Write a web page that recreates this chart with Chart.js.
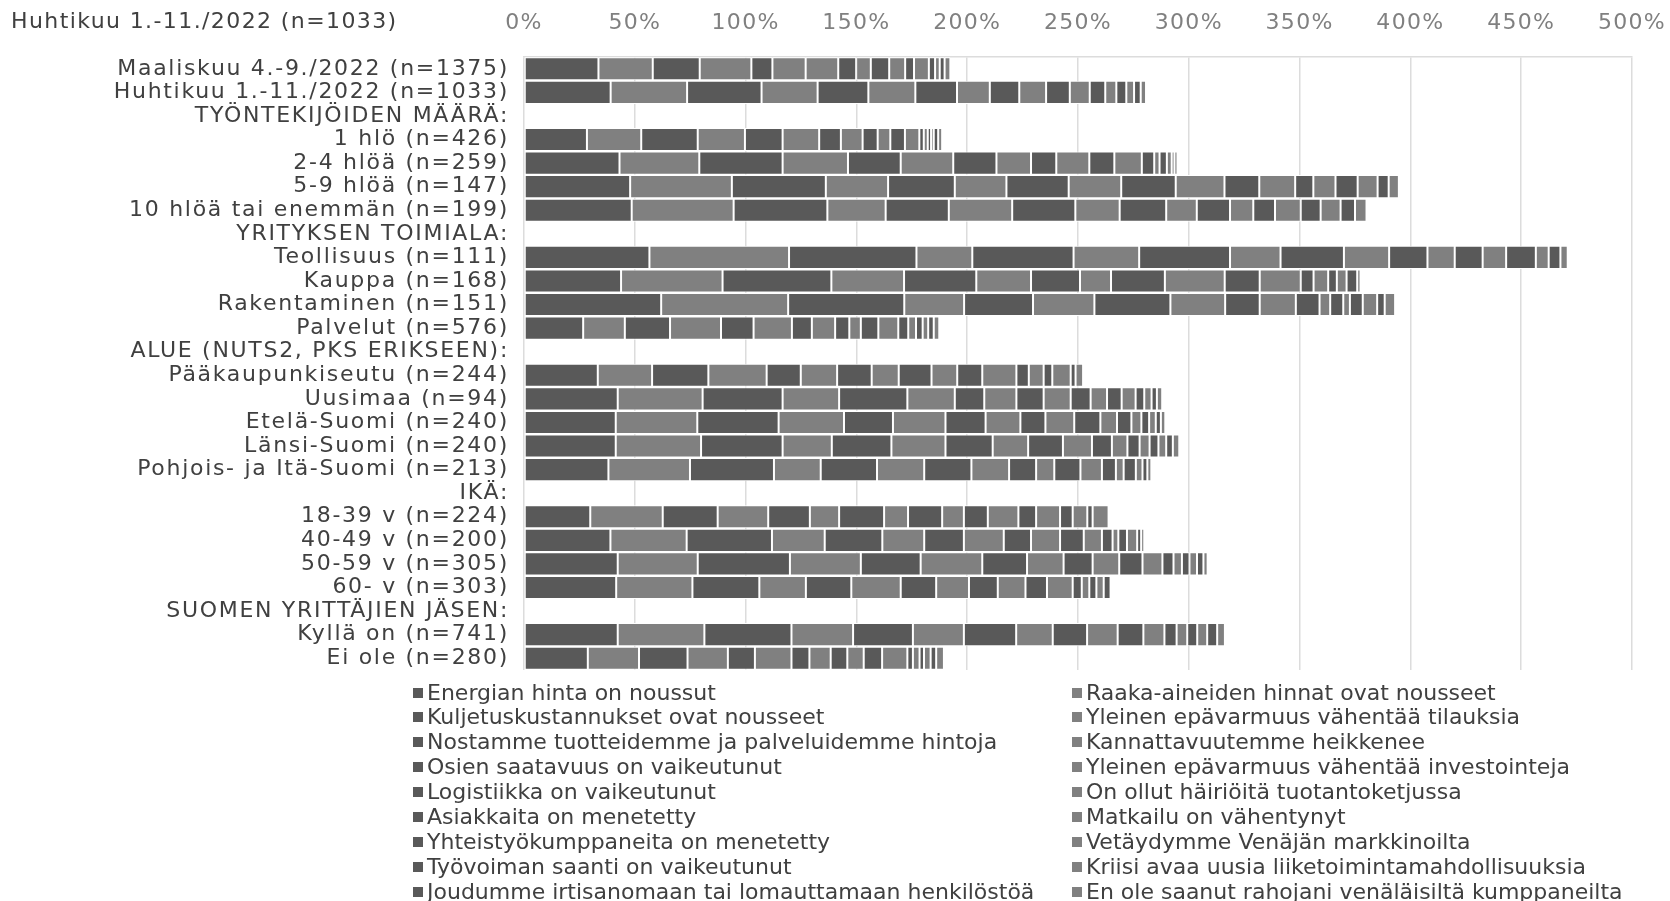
<!DOCTYPE html>
<html><head><meta charset="utf-8">
<script src="https://cdn.jsdelivr.net/npm/chart.js@4"></script>
<style>
html,body{margin:0;padding:0;background:#fff;overflow:hidden;}
#wrap{position:relative;width:1670px;height:901px;overflow:hidden;}
canvas{position:absolute;left:0;top:0;}
#title{position:absolute;left:11px;top:8px;font-family:"DejaVu Sans";font-size:22px;letter-spacing:1.4px;color:#404040;white-space:nowrap;}
.lg{position:absolute;font-family:"DejaVu Sans";font-size:22px;color:#404040;white-space:nowrap;height:26px;line-height:26px;}
.lg span.sw{position:absolute;left:0;top:8px;width:10px;height:10px;}
.lg span.tx{position:absolute;left:14px;top:0;}
</style></head>
<body><div id="wrap"><canvas id="c" width="1670" height="901"></canvas><div id="title">Huhtikuu 1.-11./2022 (n=1033)</div></div>
<script>
const categories = [
 "Maaliskuu 4.-9./2022 (n=1375)","Huhtikuu 1.-11./2022 (n=1033)","TYÖNTEKIJÖIDEN MÄÄRÄ:",
 "1 hlö (n=426)","2-4 hlöä (n=259)","5-9 hlöä (n=147)","10 hlöä tai enemmän (n=199)",
 "YRITYKSEN TOIMIALA:","Teollisuus (n=111)","Kauppa (n=168)","Rakentaminen (n=151)","Palvelut (n=576)",
 "ALUE (NUTS2, PKS ERIKSEEN):","Pääkaupunkiseutu (n=244)","Uusimaa (n=94)","Etelä-Suomi (n=240)","Länsi-Suomi (n=240)","Pohjois- ja Itä-Suomi (n=213)",
 "IKÄ:","18-39 v (n=224)","40-49 v (n=200)","50-59 v (n=305)","60- v (n=303)",
 "SUOMEN YRITTÄJIEN JÄSEN:","Kyllä on (n=741)","Ei ole (n=280)"
];
const seriesLabels = [
 "Energian hinta on noussut","Raaka-aineiden hinnat ovat nousseet",
 "Kuljetuskustannukset ovat nousseet","Yleinen epävarmuus vähentää tilauksia",
 "Nostamme tuotteidemme ja palveluidemme hintoja","Kannattavuutemme heikkenee",
 "Osien saatavuus on vaikeutunut","Yleinen epävarmuus vähentää investointeja",
 "Logistiikka on vaikeutunut","On ollut häiriöitä tuotantoketjussa",
 "Asiakkaita on menetetty","Matkailu on vähentynyt",
 "Yhteistyökumppaneita on menetetty","Vetäydymme Venäjän markkinoilta",
 "Työvoiman saanti on vaikeutunut","Kriisi avaa uusia liiketoimintamahdollisuuksia",
 "Joudumme irtisanomaan tai lomauttamaan henkilöstöä","En ole saanut rahojani venäläisiltä kumppaneilta"
];
const xTicks = [0,50,100,150,200,250,300,350,400,450,500];

const s1  = [33.6,39.1,null,28.4,43.1,47.9,48.6,null,56.6,43.8,61.9,26.7,null,33.3,42.3,41.4,41.4,38.1,null,29.9,39.0,42.3,41.6,null,42.3,28.8];
const s2  = [24.5,34.5,null,24.5,36.0,45.9,46.0,null,63.0,45.8,57.3,18.8,null,24.5,38.3,36.8,38.5,36.8,null,32.7,34.4,36.1,34.4,null,39.1,23.1];
const s3  = [21.2,33.6,null,25.5,37.6,42.4,42.3,null,57.5,49.1,52.4,20.4,null,25.4,36.1,36.7,36.8,37.9,null,24.8,38.5,41.6,30.2,null,39.3,21.9];
const s4  = [23.3,25.3,null,21.3,29.5,28.1,26.3,null,25.2,32.8,27.0,23.0,null,26.3,25.5,29.5,22.2,21.1,null,22.8,23.8,32.0,21.0,null,27.8,18.2];
const s5  = [9.5,22.9,null,17.0,23.8,30.1,28.5,null,45.7,32.6,31.1,14.7,null,15.4,30.8,22.1,26.9,25.4,null,18.8,26.0,27.0,20.5,null,27.0,12.2];
const s6  = [15.0,21.2,null,16.5,23.7,23.3,28.6,null,29.6,24.7,27.7,17.3,null,16.4,21.4,23.7,24.4,21.3,null,13.2,18.9,27.8,22.3,null,23.0,16.5];
const s7  = [0,18.8,null,9.8,19.5,28.1,28.5,null,41.0,22.1,34.3,9.0,null,15.6,13.3,18.1,21.3,21.3,null,20.3,17.9,20.2,16.0,null,23.6,8.1];
const s8  = [14.7,14.8,null,9.8,15.6,23.7,20.0,null,22.8,14.0,24.7,10.5,null,12.2,14.5,15.7,16.0,17.0,null,10.8,18.0,16.5,14.8,null,16.5,9.6];
const s9  = [8.1,13.3,null,6.8,11.4,24.6,21.0,null,28.6,24.3,15.6,6.4,null,14.8,12.3,11.3,15.7,12.2,null,15.4,12.3,13.1,13.0,null,15.5,7.5];
const s10 = [6.6,12.1,null,5.7,14.9,22.0,13.8,null,20.4,27.0,16.3,5.2,null,11.6,12.2,13.0,13.1,8.2,null,9.8,13.1,12.0,12.5,null,13.8,7.4];
const s11 = [8.3,10.7,null,6.6,11.3,15.7,15.0,null,17.3,15.8,10.7,7.9,null,11.3,9.0,11.8,9.0,11.8,null,10.8,10.7,10.5,9.7,null,11.6,8.3];
const s12 = [7.2,9.0,null,6.5,12.4,16.2,10.5,null,12.3,18.5,4.8,9.0,null,15.4,7.4,7.5,7.0,9.7,null,13.8,8.2,9.0,11.6,null,9.5,11.4];
const s13 = [4.0,7.0,null,2.0,5.6,8.2,9.8,null,12.6,5.8,5.9,4.5,null,5.6,6.6,6.5,5.5,6.3,null,8.0,4.8,5.0,4.1,null,5.5,2.5];
const s14 = [6.7,5.0,null,1.8,2.4,10.0,11.6,null,10.6,6.6,3.0,3.5,null,6.7,6.3,4.5,4.5,3.5,null,10.8,2.6,3.8,3.4,null,4.8,3.0];
const s15 = [2.8,4.5,null,1.5,3.3,10.0,9.0,null,13.4,3.9,5.8,3.0,null,3.9,3.9,3.5,4.0,5.5,null,5.7,3.9,3.4,3.2,null,4.5,2.0];
const s16 = [2.1,3.5,null,1.2,2.2,9.0,9.0,null,5.8,4.4,6.5,2.5,null,8.3,3.3,3.0,3.5,3.0,null,6.6,4.6,3.4,3.3,null,4.5,3.0];
const s17 = [2.2,3.0,null,2.0,1.2,5.0,6.5,null,5.3,4.8,3.4,2.5,null,2.2,2.4,2.3,3.0,2.2,null,2.4,1.8,2.9,3.1,null,4.5,2.5];
const s18 = [2.6,2.4,null,1.8,1.4,4.6,5.2,null,3.3,1.5,4.7,2.5,null,3.4,2.4,2.0,2.9,1.8,null,7.2,1.4,1.9,0.9,null,3.5,3.5];

const seriesValues = [s1,s2,s3,s4,s5,s6,s7,s8,s9,s10,s11,s12,s13,s14,s15,s16,s17,s18];
const DARK = '#595959', LIGHT = '#808080';
const FONT = 'DejaVu Sans';

const datasets = seriesValues.map((vals, i) => ({
  label: seriesLabels[i],
  data: vals,
  backgroundColor: i % 2 === 0 ? DARK : LIGHT,
  borderColor: '#ffffff',
  borderWidth: 1,
  borderSkipped: false,
  barPercentage: 0.98,
  categoryPercentage: 1.0
}));

// letter spacing for axis labels (canvas text)
const spacingPlugin = {
  id: 'spacing',
  afterLayout(chart) {
    const wrapScale = (sc, sp) => {
      if (!sc || sc._spWrapped) return;
      const orig = sc.drawLabels.bind(sc);
      sc.drawLabels = function (area) {
        const c = this.ctx; const prev = c.letterSpacing;
        c.letterSpacing = sp; orig(area); c.letterSpacing = prev || '0px';
      };
      sc._spWrapped = true;
    };
    wrapScale(chart.scales.x, '1.3px');
    wrapScale(chart.scales.y, '1.7px');
  }
};

new Chart(document.getElementById('c'), {
  type: 'bar',
  data: { labels: categories, datasets },
  plugins: [spacingPlugin],
  options: {
    indexAxis: 'y',
    responsive: false,
    animation: false,
    devicePixelRatio: 1,
    layout: { padding: { left: 0, right: 38, top: 0, bottom: 231 } },
    plugins: { legend: { display: false }, tooltip: { enabled: false } },
    scales: {
      x: {
        position: 'top', stacked: true, min: 0, max: 500,
        afterBuildTicks: s => { s.ticks = xTicks.map(v => ({ value: v })); },
        ticks: { callback: v => v + '%', color: '#808080', font: { family: FONT, size: 22 }, padding: 21, maxRotation: 0 },
        grid: { color: '#dcdcdc', lineWidth: 1.5, drawTicks: false },
        border: { display: true, color: '#dcdcdc', width: 1.5 },
        afterFit: s => { s.height = 57; s.paddingLeft = 0; s.paddingRight = 0; }
      },
      y: {
        stacked: true,
        ticks: { autoSkip: false, color: '#404040', font: { family: FONT, size: 22 }, padding: 15 },
        grid: { display: false, drawTicks: false },
        border: { display: false },
        afterFit: s => { s.width = 524; s.paddingTop = 0; s.paddingBottom = 0; }
      }
    }
  }
});

const wrap = document.getElementById('wrap');
seriesLabels.forEach((lab, i) => {
  const col = i % 2, row = Math.floor(i / 2);
  const d = document.createElement('div');
  d.className = 'lg';
  d.style.left = (col === 0 ? 413 : 1072) + 'px';
  d.style.top = (692.5 + row * 24.9 - 13) + 'px';
  const sw = document.createElement('span');
  sw.className = 'sw';
  sw.style.background = i % 2 === 0 ? DARK : LIGHT;
  const tx = document.createElement('span');
  tx.className = 'tx';
  tx.textContent = lab;
  d.appendChild(sw); d.appendChild(tx);
  wrap.appendChild(d);
});
</script></body></html>
